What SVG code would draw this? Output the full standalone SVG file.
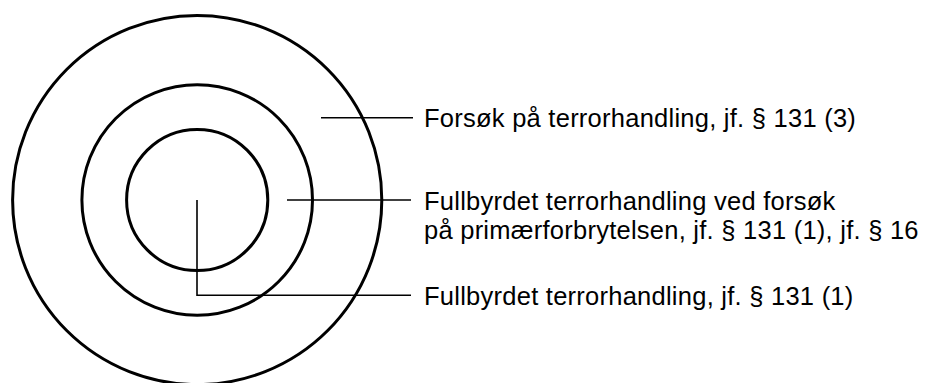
<svg xmlns="http://www.w3.org/2000/svg" width="929" height="383" viewBox="0 0 929 383">
<style>
.ring{fill:none;stroke:#000;stroke-width:3}
.lead{fill:none;stroke:#000;stroke-width:1.6}
.lbl{font-family:"Liberation Sans",Arial,Helvetica,sans-serif;font-size:25.5px;letter-spacing:0.25px;fill:#000}
</style>
<rect width="929" height="383" fill="#fff"/>
<g id="outer"><circle class="ring" cx="197.2" cy="200" r="184.6"/></g>
<g id="middle"><circle class="ring" cx="197.2" cy="200" r="115.3"/></g>
<g id="inner"><circle class="ring" cx="197.2" cy="200" r="70.6"/></g>
<g id="connectors">
<path class="lead" d="M321 117.7H413"/>
<path class="lead" d="M287 200H411"/>
<path class="lead" d="M197 200V295.3H411"/>
</g>
<g id="label-outer"><text class="lbl" x="424" y="127">Forsøk på terrorhandling, jf. § 131 (3)</text></g>
<g id="label-middle"><text class="lbl" x="424" y="210">Fullbyrdet terrorhandling ved forsøk</text><text class="lbl" x="424" y="239">på primærforbrytelsen, jf. § 131 (1), jf. § 16</text></g>
<g id="label-inner"><text class="lbl" x="424" y="305">Fullbyrdet terrorhandling, jf. § 131 (1)</text></g>
</svg>
